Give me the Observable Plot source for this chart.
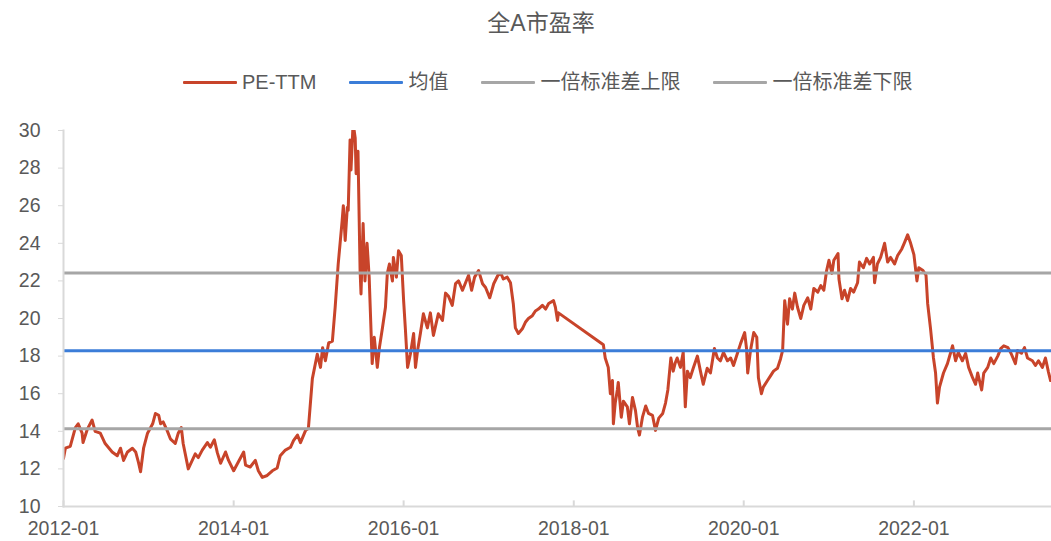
<!DOCTYPE html>
<html>
<head>
<meta charset="utf-8">
<script src="https://cdn.jsdelivr.net/npm/d3@7"></script>
<script src="https://cdn.jsdelivr.net/npm/@observablehq/plot@0.6"></script>
<style>
  html, body { margin: 0; padding: 0; background: #fff; }
  body { width: 1051px; height: 541px; position: relative; overflow: hidden;
         font-family: "Liberation Sans", Arial, "Noto Sans CJK SC", sans-serif; color: #595959; }
  #header { position: relative; height: 110px; }
  #title { position: absolute; left: 541px; top: 8px; transform: translateX(-50%);
           font-size: 23px; line-height: 30px; white-space: nowrap; }
  #legend { position: absolute; left: 183px; top: 69px; display: flex; gap: 33px;
            font-size: 20px; line-height: 26px; white-space: nowrap; }
  .item { display: flex; align-items: center; gap: 5px; }
  .swatch { width: 54px; height: 3px; border-radius: 1px; }
</style>
</head>
<body>
<div id="header">
  <div id="title"></div>
  <div id="legend"></div>
</div>
<div id="chart"></div>
<script>
const titleText = "全A市盈率";
const seriesNames = ["PE-TTM", "均值", "一倍标准差上限", "一倍标准差下限"];
const seriesColors = ["#C8442A", "#3B7DD8", "#A6A6A6", "#A6A6A6"];

const meanValue = 18.29;
const upperValue = 22.42;
const lowerValue = 14.14;

const yTicks = [10, 12, 14, 16, 18, 20, 22, 24, 26, 28, 30];
const xTickLabels = ["2012-01", "2014-01", "2016-01", "2018-01", "2020-01", "2022-01"];

const dates = [
"2012-01-01","2012-01-09","2012-01-30","2012-02-21","2012-03-04","2012-03-21","2012-03-25","2012-04-12","2012-05-03","2012-05-16",
"2012-06-07","2012-06-28","2012-07-28","2012-08-19","2012-09-02","2012-09-15","2012-10-02","2012-10-23","2012-11-06","2012-11-18",
"2012-11-27","2012-12-10","2012-12-27","2013-01-18","2013-01-30","2013-02-13","2013-02-21","2013-03-04","2013-03-21","2013-04-04",
"2013-04-25","2013-05-08","2013-05-21","2013-05-29","2013-06-20","2013-07-07","2013-07-20","2013-08-02","2013-08-19","2013-09-10",
"2013-09-23","2013-10-10","2013-10-23","2013-11-06","2013-11-27","2013-12-10","2014-01-01","2014-01-18","2014-02-13","2014-02-21",
"2014-03-13","2014-04-04","2014-04-17","2014-05-04","2014-05-25","2014-06-16","2014-07-07","2014-07-20","2014-08-11","2014-09-02",
"2014-09-15","2014-10-02","2014-10-15","2014-11-06","2014-11-18","2014-12-05","2014-12-26","2015-01-09","2015-01-18","2015-01-30",
"2015-02-13","2015-03-01","2015-03-13","2015-03-26","2015-04-12","2015-04-17","2015-04-25","2015-05-04","2015-05-08","2015-05-16",
"2015-05-20","2015-05-29","2015-06-07","2015-06-11","2015-06-19","2015-06-28","2015-07-02","2015-07-11","2015-07-19","2015-07-28",
"2015-08-06","2015-08-15","2015-08-19","2015-08-28","2015-09-10","2015-09-19","2015-10-02","2015-10-15","2015-10-23","2015-11-01",
"2015-11-14","2015-11-18","2015-12-01","2015-12-10","2015-12-22","2016-01-01","2016-01-09","2016-01-18","2016-01-30","2016-02-13",
"2016-02-21","2016-03-01","2016-03-13","2016-03-26","2016-04-12","2016-04-25","2016-05-08","2016-05-29","2016-06-16","2016-06-29",
"2016-07-11","2016-07-28","2016-08-11","2016-08-24","2016-09-10","2016-09-23","2016-10-06","2016-10-19","2016-11-01","2016-11-18",
"2016-12-05","2016-12-18","2017-01-05","2017-01-22","2017-02-09","2017-02-22","2017-03-04","2017-03-21","2017-04-04","2017-04-16",
"2017-04-25","2017-05-08","2017-05-25","2017-06-07","2017-06-20","2017-07-07","2017-07-20","2017-08-02","2017-08-19","2017-09-02",
"2017-09-15","2017-10-06","2017-10-14","2017-10-23","2017-10-27","2018-05-08","2018-05-16","2018-05-29","2018-06-07","2018-06-16",
"2018-06-20","2018-06-28","2018-07-07","2018-07-11","2018-07-24","2018-08-02","2018-08-19","2018-08-28","2018-09-10","2018-09-23",
"2018-10-02","2018-10-10","2018-10-23","2018-11-06","2018-11-18","2018-12-05","2018-12-18","2019-01-01","2019-01-18","2019-01-30",
"2019-02-09","2019-02-22","2019-03-04","2019-03-13","2019-03-21","2019-04-04","2019-04-16","2019-04-25","2019-05-04","2019-05-16",
"2019-05-29","2019-06-16","2019-06-29","2019-07-11","2019-07-28","2019-08-11","2019-08-28","2019-09-10","2019-09-23","2019-10-06",
"2019-10-23","2019-11-06","2019-11-18","2019-12-05","2019-12-18","2020-01-05","2020-01-13","2020-01-18","2020-01-30","2020-02-13",
"2020-02-26","2020-03-04","2020-03-17","2020-03-25","2020-04-12","2020-04-25","2020-05-08","2020-05-25","2020-06-07","2020-06-16",
"2020-06-25","2020-07-07","2020-07-16","2020-07-28","2020-08-07","2020-08-19","2020-09-02","2020-09-15","2020-10-02","2020-10-15",
"2020-10-28","2020-11-14","2020-11-27","2020-12-10","2020-12-22","2021-01-01","2021-01-14","2021-01-22","2021-02-09","2021-02-13",
"2021-02-26","2021-03-09","2021-03-22","2021-04-04","2021-04-17","2021-05-04","2021-05-12","2021-05-29","2021-06-12","2021-06-25",
"2021-07-11","2021-07-16","2021-07-28","2021-08-11","2021-08-28","2021-09-10","2021-09-23","2021-10-10","2021-10-23","2021-11-10",
"2021-11-22","2021-12-05","2021-12-18","2022-01-01","2022-01-14","2022-01-22","2022-02-09","2022-02-22","2022-03-01","2022-03-13",
"2022-03-22","2022-03-26","2022-04-04","2022-04-12","2022-04-21","2022-05-08","2022-05-25","2022-06-07","2022-06-16","2022-06-29",
"2022-07-11","2022-07-28","2022-08-11","2022-08-24","2022-09-10","2022-09-23","2022-10-02","2022-10-19","2022-10-28","2022-11-14",
"2022-11-27","2022-12-10","2022-12-27","2023-01-09","2023-01-22","2023-02-09","2023-02-22","2023-03-13","2023-03-22","2023-04-08",
"2023-04-21","2023-05-04","2023-05-25","2023-06-07","2023-06-20","2023-07-07","2023-07-20","2023-08-02","2023-08-11"
];

const peValues = [
12.55,13.1,13.2,14.2,14.4,13.9,13.4,14.1,14.6,14.0,
13.9,13.35,12.9,12.7,13.1,12.45,12.9,13.1,12.9,12.35,
11.85,13.1,13.9,14.4,14.95,14.85,14.4,14.5,14.05,13.6,
13.35,13.9,14.2,13.35,12.0,12.45,12.8,12.6,13.0,13.4,
13.15,13.55,12.85,12.3,12.9,12.45,11.9,12.3,12.9,12.2,
12.1,12.45,11.9,11.55,11.65,11.9,12.05,12.7,13.0,13.15,
13.5,13.8,13.4,14.05,14.15,16.8,18.1,17.4,18.45,17.75,
18.7,18.8,20.6,22.9,25.2,26.0,24.15,25.9,25.75,29.5,
27.9,30.4,29.6,27.7,28.9,22.55,21.3,25.05,22.0,24.0,
22.2,19.0,17.6,19.0,17.4,18.45,19.5,20.6,22.4,22.9,
22.0,23.25,22.2,23.6,23.35,20.95,19.35,17.4,18.1,19.2,
17.4,18.3,19.2,20.25,19.5,20.3,19.1,20.25,19.9,21.35,
21.2,20.7,21.85,22.0,21.5,21.9,22.3,21.5,22.2,22.55,
21.85,21.65,21.1,21.85,22.3,22.4,22.1,22.2,21.9,20.8,
19.5,19.2,19.45,19.8,20.0,20.15,20.4,20.5,20.7,20.5,
20.8,20.95,20.6,19.9,20.3,18.6,17.9,17.4,16.0,16.7,
14.4,15.5,16.2,16.6,14.75,15.6,15.3,14.4,15.8,15.1,
14.2,13.8,14.75,15.35,14.95,14.85,14.05,14.7,14.95,15.5,
16.2,17.9,17.2,17.65,17.9,17.4,18.2,15.3,17.2,16.85,
17.35,18.0,17.2,16.5,17.35,17.1,18.4,17.9,17.75,18.2,
17.75,17.9,17.5,18.15,18.65,19.25,18.4,17.1,18.3,19.25,
19.0,16.85,16.0,16.35,16.7,16.95,17.2,17.35,17.85,18.3,
20.95,19.7,21.05,20.5,21.35,20.6,20.0,20.7,21.1,20.5,
21.6,21.4,21.75,21.5,22.55,23.1,22.4,23.1,23.45,22.1,
21.05,21.5,20.95,21.6,21.4,21.9,23.0,22.7,23.2,22.9,
23.25,21.9,22.9,23.25,24.0,23.0,23.25,22.9,23.35,23.7,
24.05,24.45,24.0,23.4,22.0,22.7,22.55,22.3,20.8,19.5,
18.4,17.9,17.1,15.5,16.35,17.1,17.6,18.15,18.55,17.75,
18.2,17.75,18.15,17.4,16.85,16.5,17.1,16.2,17.1,17.4,
17.9,17.6,18.0,18.4,18.55,18.45,18.15,17.6,18.3,18.15,
18.45,17.9,17.75,17.5,17.75,17.4,17.9,17.15,16.7
];

const data = dates.map((d, i) => ({date: new Date(d), pe: peValues[i]}));
const xTicks = xTickLabels.map(s => new Date(s + "-01"));

document.getElementById("title").textContent = titleText;
const legend = document.getElementById("legend");
seriesNames.forEach((name, i) => {
  const item = document.createElement("div");
  item.className = "item";
  const sw = document.createElement("div");
  sw.className = "swatch";
  sw.style.background = seriesColors[i];
  const label = document.createElement("span");
  label.textContent = name;
  item.appendChild(sw);
  item.appendChild(label);
  legend.appendChild(item);
});

const chart = Plot.plot({
  width: 1051,
  height: 431,
  marginLeft: 63,
  marginRight: 0,
  marginTop: 20,
  marginBottom: 35,
  style: {
    fontFamily: '"Liberation Sans", Arial, "Noto Sans CJK SC", sans-serif',
    fontSize: "19.5px",
    color: "#595959",
    background: "transparent",
    overflow: "visible"
  },
  x: {type: "utc", domain: [new Date("2012-01-01"), new Date("2023-08-15")]},
  y: {domain: [10, 30]},
  marks: [
    Plot.line(data, {x: "date", y: "pe", stroke: seriesColors[0], strokeWidth: 3, clip: true}),
    Plot.ruleY([meanValue], {stroke: seriesColors[1], strokeWidth: 3}),
    Plot.ruleY([upperValue, lowerValue], {stroke: seriesColors[2], strokeWidth: 3}),
    Plot.frame({anchor: "left", stroke: "#D9D9D9", strokeWidth: 2}),
    Plot.frame({anchor: "bottom", stroke: "#D9D9D9", strokeWidth: 2}),
    Plot.ruleX(xTicks, {x: d => d, y1: 10, y2: 10.3, stroke: "#D9D9D9", strokeWidth: 2}),
    Plot.axisY({ticks: yTicks, tickSize: 5, tickPadding: 18, stroke: "#D9D9D9", fill: "#595959", label: null}),
    Plot.axisX({ticks: xTicks, tickSize: 0, tickPadding: 15, tickFormat: d3.utcFormat("%Y-%m"), fill: "#595959", label: null})
  ]
});
document.getElementById("chart").appendChild(chart);
</script>
</body>
</html>
